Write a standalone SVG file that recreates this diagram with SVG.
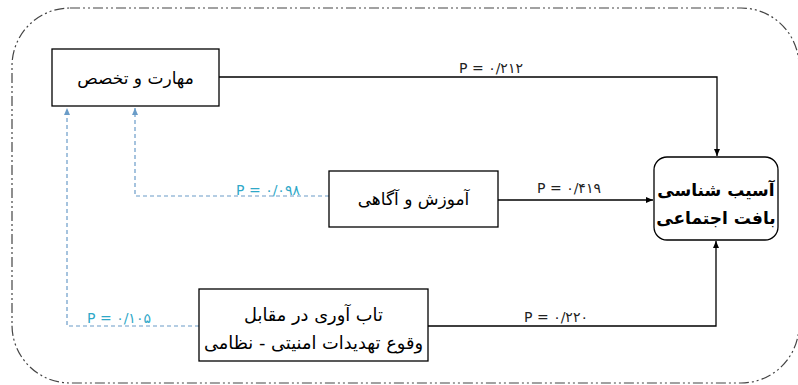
<svg xmlns="http://www.w3.org/2000/svg" width="798" height="385" viewBox="0 0 798 385">
<defs>
<marker id="ab" markerWidth="8" markerHeight="8" refX="7" refY="4" orient="auto" markerUnits="userSpaceOnUse">
<path d="M0,1 L7,4 L0,7 Z" fill="#000"/>
</marker>
<marker id="ablue" markerWidth="8" markerHeight="8" refX="7" refY="4" orient="auto" markerUnits="userSpaceOnUse">
<path d="M0,1 L7,4 L0,7 Z" fill="#6a9cc8"/>
</marker>
<style>
.box{fill:#fff;stroke:#000;stroke-width:1.3}
.t{font-family:"DejaVu Sans",sans-serif;font-size:17px;fill:#000;text-anchor:middle;direction:rtl}
.t3{font-family:"DejaVu Sans",sans-serif;font-size:17.8px;fill:#000;text-anchor:middle;direction:rtl}
.tb{font-family:"DejaVu Sans",sans-serif;font-size:17px;font-weight:bold;fill:#000;text-anchor:middle;direction:rtl}
.lbl{font-family:"DejaVu Sans",sans-serif;font-size:14px;fill:#222;text-anchor:middle}
.lblb{font-family:"DejaVu Sans",sans-serif;font-size:14px;fill:#2fa8c8;text-anchor:middle}
.c{fill:none;stroke:#000;stroke-width:1.3}
.cd{fill:none;stroke:#6a9cc8;stroke-width:1.2;stroke-dasharray:4 3}
</style>
</defs>
<rect x="12" y="8" width="787" height="375" rx="58" ry="58" fill="none" stroke="#444" stroke-width="1.2" stroke-dasharray="10 3 2 3 2 3"/>
<g id="connectors">
<path class="c" d="M219,77 H717 V156" marker-end="url(#ab)"/>
<path class="c" d="M498,200 H653" marker-end="url(#ab)"/>
<path class="c" d="M428,326 H716 V241" marker-end="url(#ab)"/>
<path class="cd" d="M329,196 H135 V108" marker-end="url(#ablue)"/>
<path class="cd" d="M199,326 H67 V108" marker-end="url(#ablue)"/>
<text class="lbl" x="491" y="73">P = ۰/۲۱۲</text>
<text class="lbl" x="569" y="193">P = ۰/۴۱۹</text>
<text class="lbl" x="556" y="322">P = ۰/۲۲۰</text>
<text class="lblb" x="268" y="195">P = ۰/۰۹۸</text>
<text class="lblb" x="119" y="323">P = ۰/۱۰۵</text>
</g>
<g id="node-skill">
<rect class="box" x="52" y="49" width="167" height="57"/>
<text class="t" x="135.5" y="84">مهارت و تخصص</text>
</g>
<g id="node-education">
<rect class="box" x="329" y="171" width="169" height="56"/>
<text class="t" x="413.5" y="205">آموزش و آگاهی</text>
</g>
<g id="node-resilience">
<rect class="box" x="199" y="289" width="229" height="72"/>
<text class="t3" x="313.5" y="321">تاب آوری در مقابل</text>
<text class="t3" x="313.5" y="349">وقوع تهدیدات امنیتی - نظامی</text>
</g>
<g id="node-target">
<rect class="box" x="654" y="157" width="124" height="83" rx="13" ry="13"/>
<text class="tb" x="716" y="196">آسیب شناسی</text>
<text class="tb" x="716" y="224">بافت اجتماعی</text>
</g>
</svg>
